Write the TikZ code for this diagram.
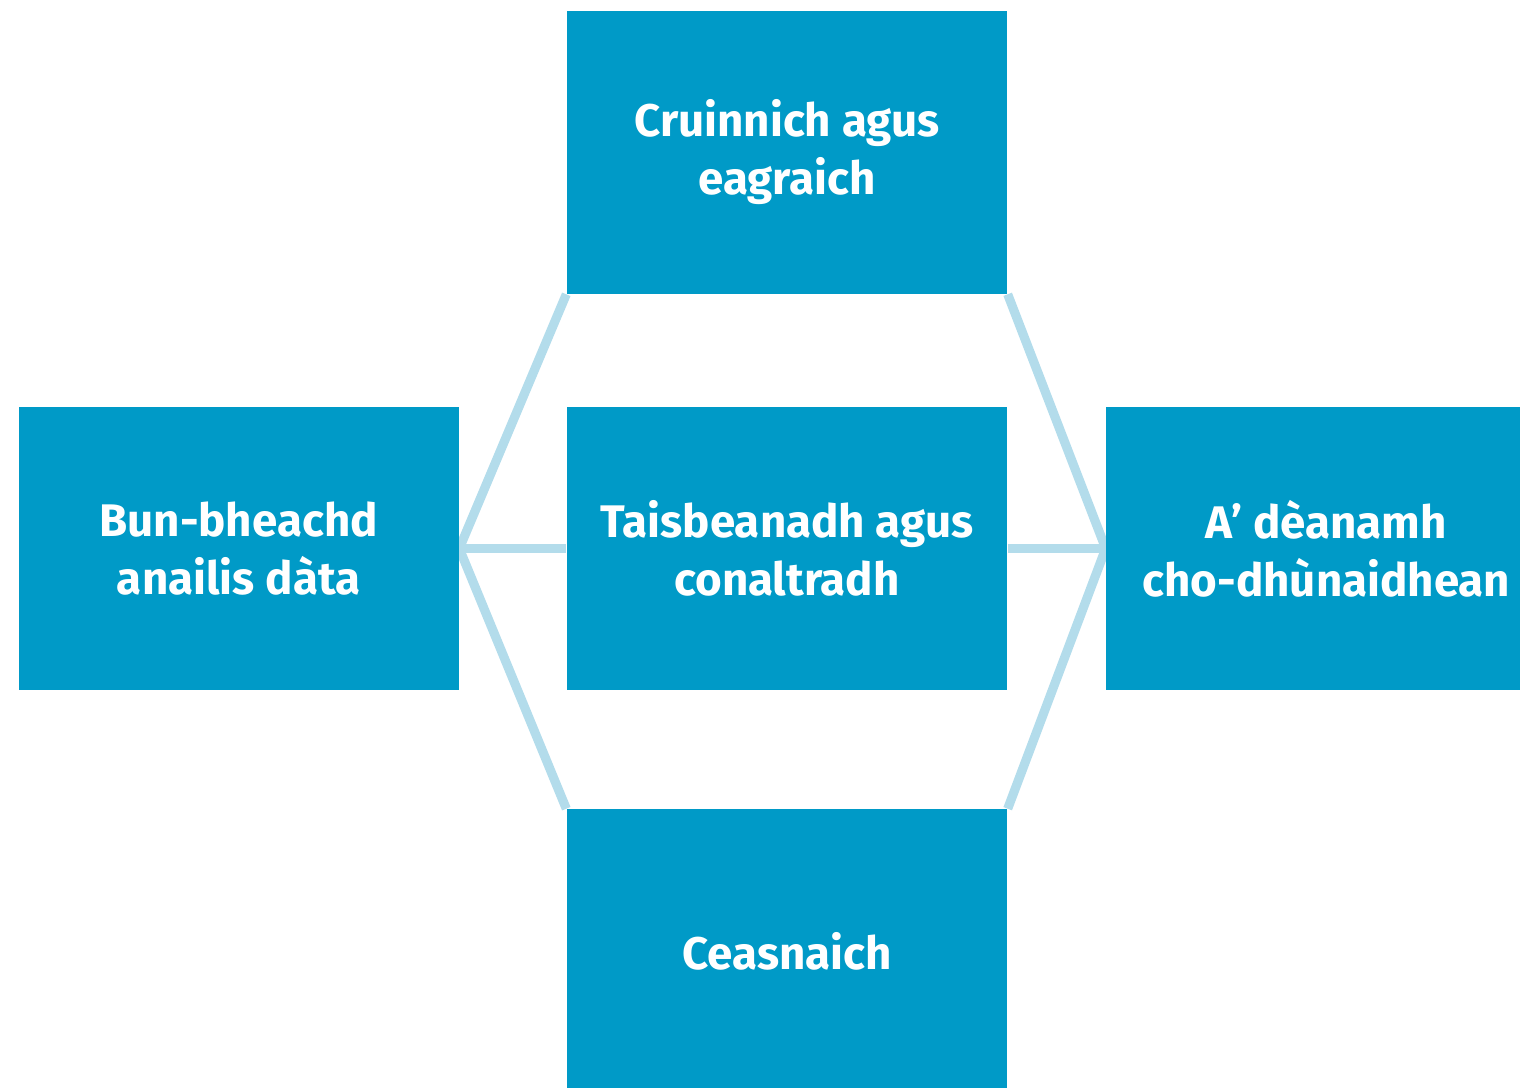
\documentclass[tikz,border=0pt]{standalone}
\usepackage{fontspec}
\setmainfont{Fira Sans}
\usepackage{xcolor}
\usepackage{tikz}
\usetikzlibrary{positioning,backgrounds}

\definecolor{boxblue}{HTML}{009AC7}
\definecolor{linkblue}{HTML}{B3DCEB}

\begin{document}
\begin{tikzpicture}[font=\bfseries\fontsize{13}{16.5}\selectfont, every node/.style={inner sep=1.8pt}]
        \tikzset{
            box/.style={fill=boxblue, text=white, align=center, minimum width=4.4cm, minimum height=2.83cm},
            link/.style={draw=linkblue, line width=2.6pt}
        }
        \useasboundingbox (0,0) rectangle (15.2,10.87);

        \node[box] (mid) at (7.87,5.385) {Taisbeanadh agus\\conaltradh};
        \node[box, left=1.07cm of mid] (concept) {Bun-bheachd\\anailis dàta};
        \node[box, right=0.98cm of mid] (decide) {A’ dèanamh\\cho-dhùnaidhean};
        \node[box, above=1.12cm of mid] (gather) {Cruinnich agus\\eagraich};
        \node[box, below=1.18cm of mid] (question) {Ceasnaich};

        % hexagon of links sits behind the boxes
        \begin{scope}[on background layer]
            \draw[link] (concept.east) -- (gather.south west);
            \draw[link] (gather.south east) -- (decide.west);
            \draw[link] (decide.west) -- (question.north east);
            \draw[link] (question.north west) -- (concept.east);
            \draw[link] (concept.east) -- (mid.west);
            \draw[link] (mid.east) -- (decide.west);
        \end{scope}
    \end{tikzpicture}
\end{document}
